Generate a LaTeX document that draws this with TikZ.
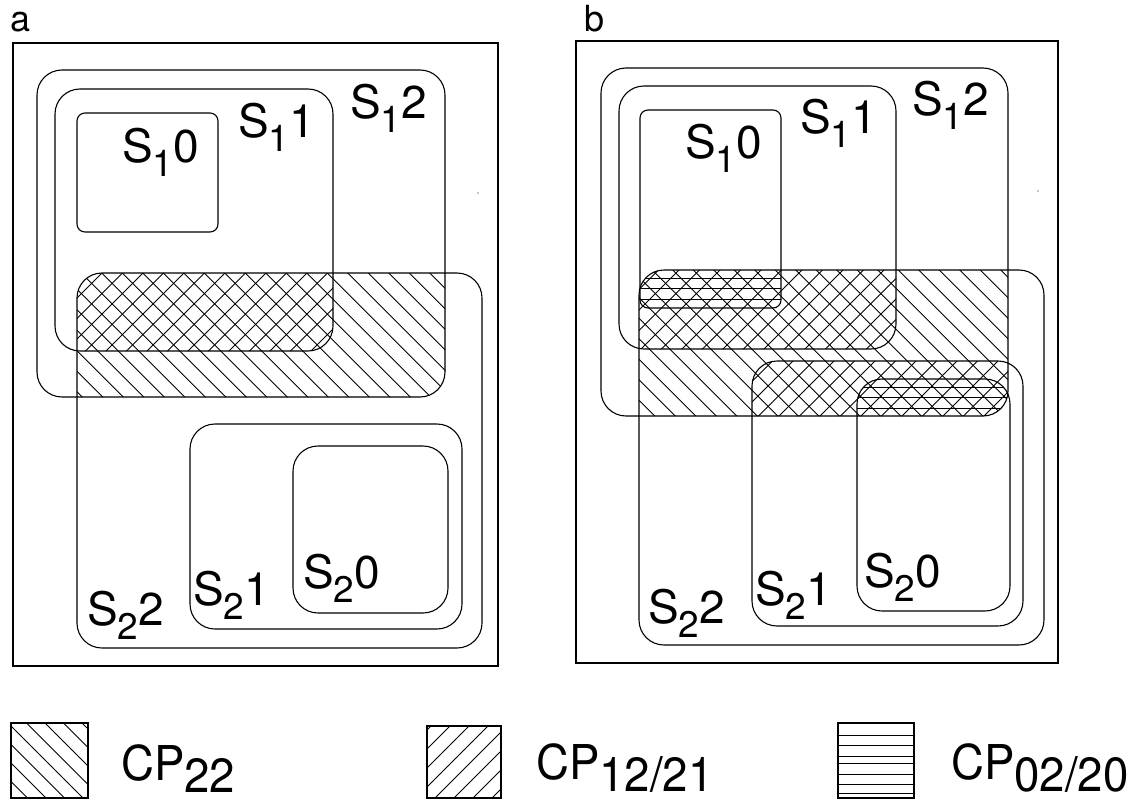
\documentclass[tikz,border=0pt]{standalone}
\usepackage{fontspec}
\setmainfont{TeX Gyre Heros}
\usepackage{graphicx}
\newcommand\bigsz{\fontsize{46}{50}\selectfont}
\newcommand\subsz{\fontsize{37}{40}\selectfont}
\newcommand\legsz{\fontsize{48}{52}\selectfont}
\newcommand\panelsz{\fontsize{36}{40}\selectfont}
\newcommand\slab[2]{S\raisebox{-14pt}{\subsz #1}#2}
\newcommand\cplab[1]{\scalebox{0.95}[1]{CP\raisebox{-12pt}{#1}}}
\newcommand\hBS{\foreach \c in {-800,-779.5,...,1100} {\draw[hatch] (\c+13.8,0) -- (\c+913.8,900);}}
\newcommand\hFS{\foreach \c in {0,20.5,...,2000} {\draw[hatch] (\c+6,0) -- (\c-894,900);}}
\tikzset{
  setbox/.style={draw, line width=1.1pt, rounded corners=25pt},
  smallbox/.style={draw, line width=1.1pt, rounded corners=8pt},
  framebox/.style={draw, line width=1.2pt},
  hatch/.style={line width=0.9pt},
  lab/.style={anchor=base west, inner sep=0pt, font=\bigsz},
  leglab/.style={anchor=base west, inner sep=0pt, font=\legsz},
  panellab/.style={anchor=base west, inner sep=0pt, font=\panelsz},
}
\begin{document}
\begin{tikzpicture}[x=1pt,y=-1pt]
\useasboundingbox (0,0) rectangle (1141,800);

% ================= panel a =================
\node[panellab] (pa) at (10,32) {a};
% hatching a: S12 cap S22  (\\)
\begin{scope}
  \clip[rounded corners=25pt] (37,70) rectangle (445,397);
  \clip[rounded corners=25pt] (77,273) rectangle (482,648);
  \hBS
\end{scope}
% S11 cap S22 (//)
\begin{scope}
  \clip[rounded corners=25pt] (55,89) rectangle (333,351);
  \clip[rounded corners=25pt] (77,273) rectangle (482,648);
  \hFS
\end{scope}
\path[framebox] (13,43) rectangle (498,666);
\path[setbox] (37,70) rectangle (445,397);
\path[setbox] (55,89) rectangle (333,351);
\path[smallbox] (77,113) rectangle (218,232);
\path[setbox] (77,273) rectangle (482,648);
\path[setbox] (190,424) rectangle (462,629);
\path[setbox] (293,446) rectangle (448,613);
\fill (478,193) circle (0.6);
\node[lab] (a10) at (122,162) {\slab{1}{0}};
\node[lab] (a11) at (238,137) {\slab{1}{1}};
\node[lab] (a12) at (350,118) {\slab{1}{2}};
\node[lab] (a22) at (87,625) {\slab{2}{2}};
\node[lab] (a21) at (193,605) {\slab{2}{1}};
\node[lab] (a20) at (303,588) {\slab{2}{0}};

% ================= panel b =================
\node[panellab] (pb) at (584,32) {b};
% S12 cap S22 (\\)
\begin{scope}
  \clip[rounded corners=25pt] (601,68) rectangle (1008,416);
  \clip[rounded corners=25pt] (639,270) rectangle (1044,645);
  \hBS
\end{scope}
% S11 cap S22 (//)
\begin{scope}
  \clip[rounded corners=25pt] (619,86) rectangle (896,349);
  \clip[rounded corners=25pt] (639,270) rectangle (1044,645);
  \hFS
\end{scope}
% S12 cap S21 (//)
\begin{scope}
  \clip[rounded corners=25pt] (601,68) rectangle (1008,416);
  \clip[rounded corners=25pt] (752,361) rectangle (1023,626);
  \hFS
\end{scope}
% S10 cap S22 (horizontal)
\begin{scope}
  \clip[rounded corners=8pt] (640,110) rectangle (781,308);
  \clip[rounded corners=25pt] (639,270) rectangle (1044,645);
  \foreach \y in {278,288.5,299} {\draw[hatch] (600,\y) -- (800,\y);}
\end{scope}
% S12 cap S20 (horizontal)
\begin{scope}
  \clip[rounded corners=25pt] (601,68) rectangle (1008,416);
  \clip[rounded corners=25pt] (857,379) rectangle (1010,611);
  \foreach \y in {387,397.5,408} {\draw[hatch] (840,\y) -- (1020,\y);}
\end{scope}
\path[framebox] (576,41) rectangle (1058,663);
\path[setbox] (601,68) rectangle (1008,416);
\path[setbox] (619,86) rectangle (896,349);
\path[smallbox] (640,110) rectangle (781,308);
\path[setbox] (639,270) rectangle (1044,645);
\path[setbox] (752,361) rectangle (1023,626);
\path[setbox] (857,379) rectangle (1010,611);
\fill (1038,191) circle (0.6);
\node[lab] (b10) at (685,158) {\slab{1}{0}};
\node[lab] (b11) at (800,133) {\slab{1}{1}};
\node[lab] (b12) at (912,115) {\slab{1}{2}};
\node[lab] (b22) at (648,623) {\slab{2}{2}};
\node[lab] (b21) at (755,605) {\slab{2}{1}};
\node[lab] (b20) at (864,587) {\slab{2}{0}};

% ================= legend =================
\begin{scope}
  \clip (11,723) rectangle (88,798);
  \foreach \c in {-200,-181.5,...,200} {\draw[hatch] (\c,700) -- (\c+120,820);}
\end{scope}
\path[draw, line width=1.1pt] (11,723) rectangle (88,798);
\node[leglab] (l1) at (121,780) {\cplab{22}};

\begin{scope}
  \clip (427,726) rectangle (501,798);
  \foreach \c in {400,419,...,640} {\draw[hatch] (\c,700) -- (\c-120,820);}
\end{scope}
\path[draw, line width=1.1pt] (427,726) rectangle (501,798);
\node[leglab] (l2) at (536,779) {\cplab{12/21}};

\foreach \y in {735,745.5,756,763.5,774,784.5,793} {\draw[hatch] (838,\y) -- (915,\y);}
\path[draw, line width=1.1pt] (838,723) rectangle (914,798);
\node[leglab] (l3) at (951,779) {\cplab{02/20}};
\end{tikzpicture}
\end{document}
